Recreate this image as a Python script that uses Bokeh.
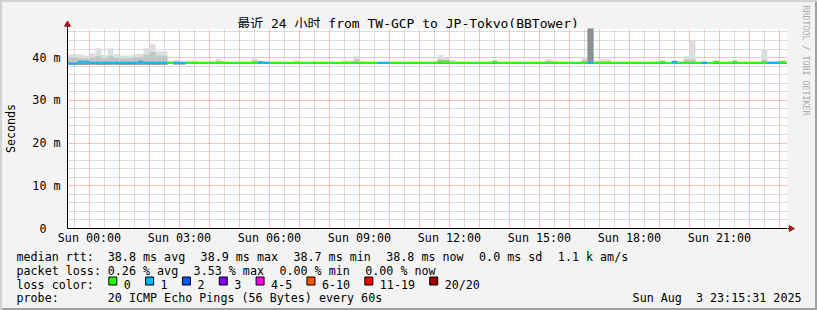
from math import pi
from bokeh.plotting import figure
from bokeh.layouts import column, row
from bokeh.models import Range1d, FixedTicker, ColumnDataSource
from bokeh.core.properties import value
from bokeh.embed import file_html
from bokeh.resources import INLINE

# ---------------- data ----------------
bin_minutes = 12
first_bin_start = -48           # minutes relative to Sun 00:00
view_start, view_end = -44, 1396

# one value per 12-minute bin, bins k = -4 .. 116
median_ms = [
    38.6, 38.6, 39.0, 39.0, 38.8, 38.8, 38.8, 38.8, 38.8, 38.8,
    38.8, 38.8, 39.0, 38.8, 38.8, 38.8, 38.8, 38.8, 38.8, 38.8,
    38.8, 38.8, 38.8, 38.8, 38.8, 38.8, 38.8, 38.8, 38.8, 38.8,
    38.8, 38.8, 38.9, 38.8, 38.8, 38.8, 38.8, 38.8, 38.8, 38.8,
    38.8, 38.8, 38.8, 38.8, 38.8, 38.8, 38.8, 38.8, 38.8, 38.8,
    38.8, 38.8, 38.8, 38.8, 38.8, 38.8, 38.8, 38.8, 38.8, 38.8,
    38.8, 38.8, 39.0, 39.0, 38.8, 38.8, 38.8, 38.8, 38.8, 38.8,
    38.8, 39.0, 38.8, 38.8, 38.8, 38.8, 38.8, 38.8, 38.8, 38.8,
    38.8, 38.8, 38.8, 38.8, 38.8, 38.8, 38.8, 38.8, 38.8, 38.8,
    38.8, 38.8, 38.8, 38.8, 38.8, 38.8, 38.8, 38.8, 38.8, 39.0,
    38.7, 39.0, 38.8, 38.8, 38.8, 38.8, 38.8, 38.7, 39.0, 38.8,
    38.8, 39.0, 38.8, 38.8, 38.8, 38.8, 38.8, 38.8, 38.8, 39.0,
    38.8,
]
loss_count = [
    1, 1, 1, 1, 1, 1, 1, 1, 1, 1,
    1, 1, 1, 1, 1, 1, 1, 0, 1, 1,
    0, 0, 0, 0, 0, 0, 0, 0, 0, 0,
    0, 0, 1, 1, 0, 0, 0, 0, 0, 0,
    0, 0, 0, 0, 0, 0, 0, 0, 0, 0,
    0, 0, 1, 1, 0, 0, 0, 0, 0, 0,
    0, 0, 0, 0, 0, 0, 0, 0, 0, 0,
    0, 0, 0, 0, 0, 0, 0, 0, 0, 0,
    0, 0, 0, 0, 0, 0, 0, 1, 0, 0,
    0, 0, 0, 0, 0, 0, 0, 0, 0, 0,
    0, 1, 0, 0, 0, 0, 1, 0, 0, 0,
    0, 0, 0, 0, 0, 0, 0, 1, 1, 0,
    0,
]
smoke_min_ms = [
    38.3, 38.3, 38.3, 38.3, 38.3, 38.3, 38.3, 38.3, 38.3, 38.3,
    38.3, 38.3, 38.3, 38.3, 38.3, 38.3, 38.3, 38.5, 38.4, 38.4,
    38.5, 38.5, 38.5, 38.5, 38.5, 38.5, 38.5, 38.5, 38.5, 38.5,
    38.5, 38.5, 38.5, 38.5, 38.5, 38.5, 38.5, 38.5, 38.5, 38.5,
    38.5, 38.5, 38.5, 38.5, 38.5, 38.5, 38.5, 38.5, 38.5, 38.5,
    38.5, 38.5, 38.5, 38.5, 38.5, 38.5, 38.5, 38.5, 38.5, 38.5,
    38.5, 38.5, 38.5, 38.5, 38.5, 38.5, 38.5, 38.5, 38.5, 38.5,
    38.5, 38.5, 38.5, 38.5, 38.5, 38.5, 38.5, 38.5, 38.5, 38.5,
    38.5, 38.5, 38.5, 38.5, 38.5, 38.5, 38.5, 38.5, 38.5, 38.5,
    38.5, 38.5, 38.5, 38.5, 38.5, 38.5, 38.5, 38.5, 38.5, 38.5,
    38.5, 38.5, 38.5, 38.5, 38.5, 38.5, 38.5, 38.5, 38.5, 38.5,
    38.5, 38.5, 38.5, 38.5, 38.5, 38.5, 38.5, 38.5, 38.5, 38.5,
    38.5,
]
smoke_mid_ms = [
    40.0, 40.0, 39.9, 39.8, 40.1, 40.3, 39.9, 40.3, 39.9, 39.8,
    39.8, 40.0, 40.0, 40.6, 41.3, 40.5, 40.3, 38.9, 39.1, 38.9,
    38.9, 38.9, 38.9, 38.9, 38.9, 39.2, 38.9, 38.9, 38.9, 38.9,
    38.9, 39.3, 38.9, 38.9, 38.9, 38.9, 38.9, 38.9, 38.9, 38.9,
    38.9, 38.9, 38.9, 38.9, 38.9, 38.9, 38.9, 38.9, 39.5, 38.9,
    38.9, 38.9, 38.9, 38.9, 38.9, 38.9, 38.9, 38.9, 38.9, 38.9,
    38.9, 38.9, 39.6, 39.4, 38.9, 38.9, 38.9, 38.9, 38.9, 38.9,
    38.9, 38.9, 38.9, 38.9, 38.9, 38.9, 38.9, 38.9, 38.9, 38.9,
    39.2, 38.9, 38.9, 38.9, 38.9, 38.9, 39.4, 47.5, 38.9, 39.1,
    39.1, 38.9, 38.9, 38.9, 38.9, 38.9, 38.9, 38.9, 38.9, 38.9,
    38.9, 38.9, 38.9, 39.5, 39.6, 38.9, 38.9, 38.9, 38.9, 38.9,
    38.9, 38.9, 38.9, 38.9, 38.9, 38.9, 39.4, 38.9, 38.9, 38.9,
    38.9,
]
smoke_dark_ms = [
    38.8, 38.8, 38.8, 38.8, 38.8, 38.8, 38.8, 38.8, 38.8, 38.8,
    38.8, 38.8, 38.8, 38.8, 38.8, 38.8, 38.8, 38.8, 38.8, 38.8,
    38.8, 38.8, 38.8, 38.8, 38.8, 38.8, 38.8, 38.8, 38.8, 38.8,
    38.8, 38.8, 38.8, 38.8, 38.8, 38.8, 38.8, 38.8, 38.8, 38.8,
    38.8, 38.8, 38.8, 38.8, 38.8, 38.8, 38.8, 38.8, 38.8, 38.8,
    38.8, 38.8, 38.8, 38.8, 38.8, 38.8, 38.8, 38.8, 38.8, 38.8,
    38.8, 38.8, 38.8, 38.8, 38.8, 38.8, 38.8, 38.8, 38.8, 38.8,
    38.8, 38.8, 38.8, 38.8, 38.8, 38.8, 38.8, 38.8, 38.8, 38.8,
    38.8, 38.8, 38.8, 38.8, 38.8, 38.8, 38.8, 47.5, 38.8, 38.8,
    38.8, 38.8, 38.8, 38.8, 38.8, 38.8, 38.8, 38.8, 38.8, 38.8,
    38.8, 38.8, 38.8, 38.8, 38.8, 38.8, 38.8, 38.8, 38.8, 38.8,
    38.8, 38.8, 38.8, 38.8, 38.8, 38.8, 38.8, 38.8, 38.8, 38.8,
    38.8,
]
smoke_max_ms = [
    40.8, 40.9, 40.7, 40.5, 41.0, 42.2, 40.6, 42.2, 40.7, 40.5,
    40.5, 40.8, 40.9, 42.2, 43.1, 41.5, 41.5, 39.2, 39.5, 39.1,
    39.3, 39.3, 39.1, 39.1, 39.2, 39.7, 39.2, 39.1, 39.1, 39.1,
    39.1, 39.8, 39.3, 39.2, 39.0, 39.1, 39.1, 39.0, 39.3, 39.0,
    39.0, 39.0, 39.0, 39.1, 39.0, 39.0, 39.3, 39.3, 40.3, 39.2,
    39.0, 39.0, 39.0, 39.0, 39.1, 39.1, 39.0, 39.1, 39.0, 39.1,
    39.0, 39.0, 40.6, 40.1, 39.4, 39.1, 39.0, 39.1, 39.0, 39.0,
    39.0, 39.1, 39.0, 39.0, 39.0, 39.1, 39.0, 39.0, 39.1, 39.1,
    39.7, 39.3, 39.1, 39.0, 39.0, 39.0, 40.0, 47.5, 39.3, 39.6,
    39.6, 39.0, 39.1, 39.0, 39.0, 39.1, 39.1, 39.1, 39.0, 39.0,
    39.0, 39.0, 39.1, 40.3, 43.9, 39.0, 39.2, 39.0, 39.0, 39.0,
    39.1, 39.0, 39.0, 39.0, 39.1, 39.1, 42.0, 39.2, 39.2, 39.0,
    39.0,
]

tick_minutes = [0, 180, 360, 540, 720, 900, 1080, 1260]
tick_labels = ["Sun 00:00", "Sun 03:00", "Sun 06:00", "Sun 09:00",
               "Sun 12:00", "Sun 15:00", "Sun 18:00", "Sun 21:00"]
y_ticks = [0, 10, 20, 30, 40]
y_tick_labels = ["0  ", "10 m", "20 m", "30 m", "40 m"]

loss_levels = ["0", "1", "2", "3", "4-5", "6-10", "11-19", "20/20"]
loss_level_max = [0, 1, 2, 3, 5, 10, 19, 20]
loss_colors = ["#26ff00", "#00b8ff", "#0059ff", "#7e00ff",
               "#ff00ea", "#ff5500", "#ff0000", "#a10000"]

title_text = "最近 24 小时 from TW-GCP to JP-Tokyo(BBTower)"
rtt_stats = ["38.8 ms avg", "38.9 ms max", "38.7 ms min", "38.8 ms now", "0.0 ms sd", "1.1 k am/s"]
loss_stats = ["0.26 % avg", "3.53 % max", "0.00 % min", "0.00 % now"]
probe_text = "20 ICMP Echo Pings (56 Bytes) every 60s"
stamp_text = "Sun Aug \u00a03 23:15:31 2025"

# ---------------- derived ----------------
n = len(median_ms)
left = [first_bin_start + i * bin_minutes for i in range(n)]
right = [l + bin_minutes for l in left]


def loss_color(c):
    for mx, col in zip(loss_level_max, loss_colors):
        if c <= mx:
            return col
    return loss_colors[-1]


src = ColumnDataSource(dict(
    left=left, right=right, med=median_ms,
    smin=smoke_min_ms, smid=smoke_mid_ms, sdark=smoke_dark_ms, smax=smoke_max_ms,
    col=[loss_color(c) for c in loss_count],
))

MONO = "DejaVu Sans Mono"
FS = "11.7px"
ARROW = "#a31515"

# canvas layout (pixels)
W, H = 817, 310
TOP_H = 28            # above the plot frame
FRAME_L, FRAME_R = 67, 787
FRAME_B = 228
MAIN_B = 247          # bottom of the time-axis strip
MAIN_H = MAIN_B - TOP_H
LEG_H = H - MAIN_B
STRIP_W = W - FRAME_R


def deco(w, h):
    return figure(width=w, height=h, x_range=Range1d(0, w), y_range=Range1d(h, 0),
                  output_backend="svg", toolbar_location=None, x_axis_type=None, y_axis_type=None,
                  min_border=0, border_fill_alpha=0, background_fill_alpha=0, outline_line_color=None)


# ---------------- main chart ----------------
p = figure(width=FRAME_R, height=MAIN_H, title=None,
           x_range=Range1d(view_start, view_end), y_range=Range1d(0, 46.8),
           output_backend="svg", toolbar_location=None,
           min_border_left=FRAME_L, min_border_right=0, min_border_top=0,
           min_border_bottom=MAIN_B - FRAME_B,
           border_fill_alpha=0, background_fill_color="white", outline_line_color=None)

# grids
hour_ticks = [-60] + list(range(0, 1441, 60))
half_ticks = [h + 30 for h in hour_ticks]
p.xgrid.ticker = FixedTicker(ticks=hour_ticks, minor_ticks=half_ticks)
p.ygrid.ticker = FixedTicker(ticks=[10, 20, 30, 40],
                             minor_ticks=[v for v in range(2, 47, 2) if v % 10])
for g in (p.xgrid[0], p.ygrid[0]):
    g.grid_line_color = "#ff7a7a"
    g.grid_line_dash = "1 1"
    g.minor_grid_line_color = "#b8b8b8"
    g.minor_grid_line_dash = "1 1"

# axes
p.xaxis.ticker = FixedTicker(ticks=tick_minutes)
p.xaxis.major_label_overrides = dict(zip(tick_minutes, tick_labels))
p.yaxis.ticker = FixedTicker(ticks=y_ticks)
p.yaxis.major_label_overrides = dict(zip(y_ticks, y_tick_labels))
for ax in (p.xaxis[0], p.yaxis[0]):
    ax.major_label_text_font = MONO
    ax.major_label_text_font_size = FS
    ax.major_label_text_color = "black"
    ax.major_tick_in = 0
    ax.major_tick_out = 0
    ax.minor_tick_in = 0
    ax.minor_tick_out = 0
    ax.axis_line_color = "black"
p.xaxis.major_label_standoff = 2
p.yaxis.major_label_standoff = 7
p.yaxis.axis_label = "Seconds"
p.yaxis.axis_label_text_font = MONO
p.yaxis.axis_label_text_font_size = FS
p.yaxis.axis_label_text_font_style = "normal"
p.yaxis.axis_label_text_color = "black"
p.yaxis.axis_label_standoff = 11

# smoke
p.quad(left="left", right="right", bottom="smin", top="smax", source=src,
       fill_color="#dddddd", line_color=None)
p.quad(left="left", right="right", bottom="smin", top="smid", source=src,
       fill_color="#c4c4c4", line_color=None)
p.quad(left="left", right="right", bottom="smin", top="sdark", source=src,
       fill_color="#8f8f8f", line_color=None)
# median line coloured by loss
p.segment(x0="left", x1="right", y0="med", y1="med", source=src,
          line_color="col", line_width=2, line_cap="butt")

# ---------------- strip above the frame: title + y-axis arrow ----------------
top = deco(FRAME_R, TOP_H)
top.text(x=[407.5], y=[23.0], text=[title_text], text_font=value(MONO + ", Noto Sans CJK SC"),
         text_font_size="13px", text_color="black", text_align="center", text_baseline="alphabetic")
top.segment(x0=[FRAME_L], x1=[FRAME_L], y0=[TOP_H], y1=[TOP_H - 3], line_color="black", line_width=1)
top.scatter(x=[FRAME_L], y=[TOP_H - 4], marker="triangle", size=6,
            fill_color=ARROW, line_color=ARROW)

# ---------------- right strip: x-axis arrow + rrdtool credit ----------------
strip = deco(STRIP_W, MAIN_B)
strip.segment(x0=[0], x1=[2], y0=[FRAME_B], y1=[FRAME_B], line_color="black", line_width=1)
strip.scatter(x=[3.5], y=[FRAME_B], marker="triangle", angle=-pi / 2, size=6,
              fill_color=ARROW, line_color=ARROW)
strip.text(x=[805 - FRAME_R], y=[5], text=["RRDTOOL / TOBI OETIKER"], angle=-pi / 2,
           text_font=value(MONO), text_font_size="8.3px", text_color="#aaaaaa",
           text_align="left", text_baseline="alphabetic")

# ---------------- legend block ----------------
leg = deco(W, LEG_H)

CW = 7.02
GAP = 15.6
y1, y2, y3, y4 = (b - MAIN_B for b in (256.8, 270.4, 284.0, 297.0))
tx, ty, tt = [], [], []


def put(x, y, t):
    tx.append(x); ty.append(y); tt.append(t)


put(16, y1, "median rtt:")
x = 107.3
for t in rtt_stats:
    put(x, y1, t)
    x += len(t) * CW + GAP
put(16, y2, "packet loss:")
x = 107.3
for t in loss_stats:
    put(x, y2, t)
    x += len(t) * CW + GAP
put(16, y3, "loss color:")
bl, br, bt, bb = [], [], [], []
x = 108.3
for t in loss_levels:
    bl.append(x); br.append(x + 8); bt.append(y3 - 7.5); bb.append(y3 + 0.5)
    put(x + 15, y3, t)
    x += 15 + len(t) * CW + 14.8
put(16, y4, "probe:")
put(107.3, y4, probe_text)

leg.text(x=tx, y=ty, text=tt, text_font=value(MONO), text_font_size=FS,
         text_color="black", text_align="left", text_baseline="alphabetic")
leg.text(x=[801], y=[y4], text=[stamp_text], text_font=value(MONO), text_font_size=FS,
         text_color="black", text_align="right", text_baseline="alphabetic")
leg.quad(left=bl, right=br, top=bt, bottom=bb, fill_color=loss_colors,
         line_color="black", line_width=1)

# wrapping `top` in its own row keeps Bokeh from aligning its frame with the chart's
left_col = column(row(top), p)
layout = column(row(left_col, strip), leg,
                styles={"background-color": "#f3f3f3",
                        "box-shadow": "inset 2px 2px 0 #d2d2d2, inset -2px -2px 0 #a0a0a0"})

open("out.html", "w").write(file_html(layout, INLINE))
